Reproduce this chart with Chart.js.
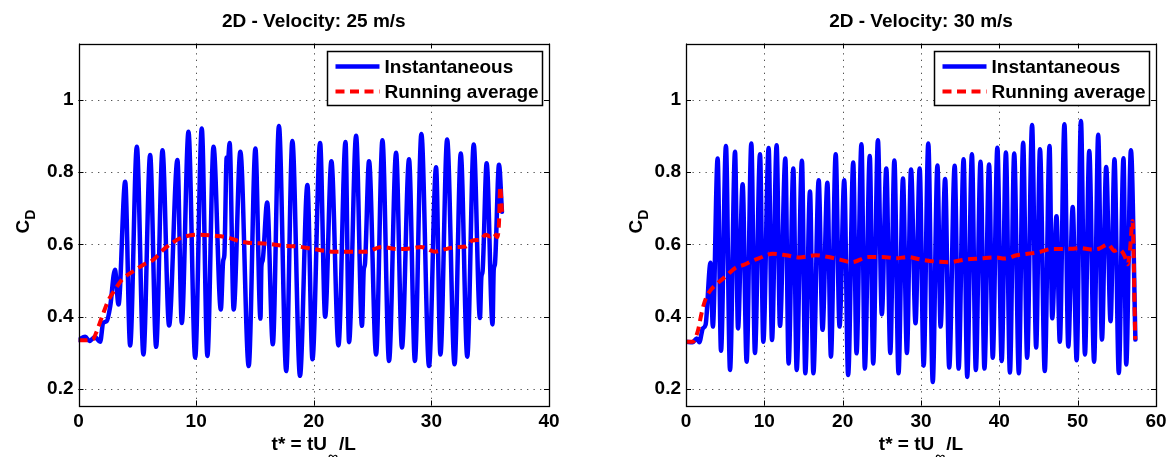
<!DOCTYPE html>
<html>
<head>
<meta charset="utf-8">
<script src="https://cdn.jsdelivr.net/npm/chart.js@4/dist/chart.umd.min.js"></script>
<style>
  html, body { margin: 0; padding: 0; background: #fff; overflow: hidden; }
  #wrap { position: relative; width: 1173px; height: 457px; }
  canvas { position: absolute; top: 0; }
  #c25 { left: 0; }
  #c30 { left: 600px; }
</style>
</head>
<body>
<div id="wrap">
  <canvas id="c25" width="600" height="457"></canvas>
  <canvas id="c30" width="573" height="457"></canvas>
</div>
<script>
// ---------------- data ----------------
// Drag coefficient history, 25 m/s case
const t25 = [0, 0.57, 0.93, 1.4, 1.84, 2.1, 2.4, 2.7, 3.1, 3.4, 3.97, 4.39, 4.96, 5.52, 6.09, 6.6, 7.14, 7.7,
  8.41, 8.78, 9.35, 9.92, 10.48, 10.96, 11.48, 12.1, 12.3, 12.4, 12.6, 12.7, 12.85, 13.19, 13.76, 14.47,
  15.04, 15.47, 15.55, 15.65, 16.04, 16.52, 17.04, 17.66, 18.18, 18.83, 19.46, 19.89, 20.54, 20.97, 21.5,
  22.1, 22.7, 23.0, 23.6, 24.1, 24.25, 24.35, 24.7, 25.3, 25.84, 26.4, 27.0, 27.5, 28.1, 28.6, 29.15, 29.8,
  30.4, 30.77, 31.34, 31.97, 32.5, 33.05, 33.6, 34.13, 34.25, 34.35, 34.7, 35.2, 35.3, 35.4, 35.75, 36.0];
const cd25 = [0.336, 0.345, 0.333, 0.344, 0.331, 0.383, 0.388, 0.43, 0.53, 0.434, 0.773, 0.321, 0.87, 0.296,
  0.847, 0.317, 0.86, 0.376, 0.833, 0.383, 0.911, 0.287, 0.92, 0.292, 0.87, 0.42, 0.555, 0.57, 0.84, 0.83,
  0.88, 0.42, 0.856, 0.264, 0.865, 0.395, 0.54, 0.555, 0.716, 0.324, 0.927, 0.25, 0.886, 0.237, 0.764, 0.283,
  0.88, 0.40, 0.83, 0.321, 0.883, 0.33, 0.90, 0.375, 0.53, 0.545, 0.83, 0.296, 0.888, 0.278, 0.853, 0.315,
  0.835, 0.278, 0.905, 0.264, 0.813, 0.296, 0.89, 0.269, 0.851, 0.29, 0.876, 0.397, 0.51, 0.525, 0.824,
  0.379, 0.53, 0.545, 0.82, 0.69];
const tAvg25 = [0, 1.2, 1.5, 2.0, 2.5, 3.1, 3.7, 4.67, 5.52, 6.37, 7.2, 8.0, 8.64, 10.06, 11.5, 12.6, 13.76,
  14.6, 16.0, 17.5, 18.7, 20.0, 21.7, 23.2, 24.4, 25.8, 27.1, 28.5, 29.1, 30.3, 31.2, 32.2, 32.9, 33.5,
  34.2, 34.6, 35.0, 35.3, 35.6, 35.75, 35.85, 35.95, 36.0];
const avg25 = [0.335, 0.337, 0.356, 0.40, 0.443, 0.475, 0.503, 0.526, 0.544, 0.558, 0.585, 0.605, 0.617,
  0.627, 0.624, 0.62, 0.608, 0.604, 0.602, 0.596, 0.594, 0.587, 0.58, 0.58, 0.58, 0.593, 0.587, 0.59, 0.593,
  0.58, 0.587, 0.593, 0.594, 0.611, 0.613, 0.627, 0.622, 0.631, 0.62, 0.66, 0.76, 0.72, 0.69];

// Drag coefficient history, 30 m/s case
const t30 = [0, 0.85, 1.37, 1.7, 2.15, 2.5, 3.13, 3.43, 4.04, 4.47, 5.1, 5.62, 6.26, 6.64, 7.23, 7.74, 8.34,
  8.8, 9.45, 9.87, 10.55, 10.98, 11.57, 12.0, 12.68, 13.1, 13.7, 14.13, 14.8, 15.23, 15.83, 16.26, 16.94,
  17.43, 18.05, 18.5, 19.11, 19.6, 20.2, 20.7, 21.35, 21.77, 22.4, 22.83, 23.46, 23.9, 24.5, 25.0, 25.57,
  26.08, 26.6, 27.13, 27.7, 28.2, 28.73, 29.3, 29.83, 30.34, 30.93, 31.5, 32.1, 32.5, 33.08, 33.6, 34.3,
  34.8, 35.44, 35.9, 36.5, 37.0, 37.6, 38.1, 38.69, 39.16, 39.75, 40.3, 40.84, 41.35, 41.9, 42.49, 43.04,
  43.55, 44.18, 44.7, 45.19, 45.8, 46.41, 46.75, 47.3, 47.72, 48.31, 48.8, 49.37, 49.87, 50.42, 50.93,
  51.48, 52.1, 52.62, 53.1, 53.64, 54.2, 54.7, 55.25, 55.85, 56.2, 56.8, 57.37];
const cd30 = [0.331, 0.33, 0.34, 0.33, 0.368, 0.378, 0.549, 0.373, 0.837, 0.306, 0.872, 0.253, 0.856, 0.368,
  0.766, 0.276, 0.879, 0.30, 0.849, 0.331, 0.866, 0.336, 0.874, 0.375, 0.837, 0.271, 0.81, 0.253, 0.831,
  0.244, 0.746, 0.244, 0.777, 0.364, 0.77, 0.29, 0.849, 0.373, 0.777, 0.239, 0.826, 0.299, 0.877, 0.257,
  0.844, 0.271, 0.888, 0.407, 0.81, 0.30, 0.832, 0.244, 0.782, 0.30, 0.807, 0.382, 0.81, 0.265, 0.879, 0.22,
  0.818, 0.373, 0.781, 0.26, 0.817, 0.257, 0.835, 0.234, 0.849, 0.253, 0.828, 0.257, 0.821, 0.287, 0.867,
  0.278, 0.854, 0.246, 0.851, 0.244, 0.881, 0.287, 0.930, 0.315, 0.863, 0.25, 0.872, 0.396, 0.678, 0.331,
  0.932, 0.318, 0.703, 0.28, 0.941, 0.296, 0.858, 0.276, 0.903, 0.337, 0.814, 0.388, 0.835, 0.245, 0.838,
  0.268, 0.86, 0.337];
const tAvg30 = [0, 0.85, 1.5, 2.04, 2.55, 3.19, 4.04, 5.1, 6.3, 7.45, 8.3, 9.36, 11.06, 12.77, 14.47, 16.55,
  18.2, 19.66, 21.2, 23.25, 25.1, 26.8, 28.3, 30.0, 31.7, 33.6, 35.65, 37.55, 39.45, 40.7, 42.2, 43.6, 45.15,
  46.6, 48.3, 49.2, 50.4, 51.7, 52.7, 53.9, 54.7, 55.3, 56.0, 56.4, 56.7, 57.0, 57.15, 57.25, 57.35];
const avg30 = [0.331, 0.331, 0.36, 0.415, 0.452, 0.475, 0.493, 0.512, 0.535, 0.544, 0.553, 0.562, 0.574,
  0.57, 0.564, 0.57, 0.565, 0.558, 0.551, 0.565, 0.565, 0.562, 0.565, 0.558, 0.553, 0.551, 0.558, 0.561,
  0.564, 0.561, 0.57, 0.574, 0.579, 0.587, 0.587, 0.588, 0.59, 0.586, 0.588, 0.60, 0.582, 0.586, 0.568,
  0.545, 0.59, 0.665, 0.572, 0.443, 0.337];

const yTickValues = [0.2, 0.4, 0.6, 0.8, 1.0];
const seriesNames = ['Instantaneous', 'Running average'];
const panelTitles = ['2D - Velocity: 25 m/s', '2D - Velocity: 30 m/s'];

// ---------------- styling ----------------
const FAMILY = "'Liberation Sans', Arial, Helvetica, sans-serif";
const FONT = 'bold 19px ' + FAMILY;

function points(xs, ys) {
  return xs.map((x, i) => ({ x: x, y: ys[i] }));
}

// dotted grid under the data, box and inward tick marks over it
const framePlugin = {
  id: 'frame',
  beforeDatasetsDraw(chart) {
    const { ctx, chartArea: a, scales } = chart;
    const xs = scales.x, ys = scales.y;
    ctx.save();
    ctx.strokeStyle = 'rgba(50,50,50,0.85)';
    ctx.lineWidth = 1;
    ctx.setLineDash([1.3, 5.2]);
    xs.ticks.forEach(tk => {
      if (tk.value <= xs.min || tk.value >= xs.max) return;
      const px = Math.round(xs.getPixelForValue(tk.value)) + 0.5;
      ctx.beginPath(); ctx.moveTo(px, a.bottom); ctx.lineTo(px, a.top); ctx.stroke();
    });
    ys.ticks.forEach(tk => {
      const py = Math.round(ys.getPixelForValue(tk.value)) + 0.5;
      ctx.beginPath(); ctx.moveTo(a.left, py); ctx.lineTo(a.right, py); ctx.stroke();
    });
    ctx.restore();
  },
  afterDatasetsDraw(chart) {
    const { ctx, chartArea: a, scales } = chart;
    const xs = scales.x, ys = scales.y;
    const len = 5;
    ctx.save();
    ctx.strokeStyle = '#000';
    ctx.lineWidth = 1;
    ctx.setLineDash([]);
    xs.ticks.forEach(tk => {
      const px = Math.round(xs.getPixelForValue(tk.value)) + 0.5;
      ctx.beginPath();
      ctx.moveTo(px, a.bottom); ctx.lineTo(px, a.bottom - len);
      ctx.moveTo(px, a.top); ctx.lineTo(px, a.top + len);
      ctx.stroke();
    });
    ys.ticks.forEach(tk => {
      const py = Math.round(ys.getPixelForValue(tk.value)) + 0.5;
      ctx.beginPath();
      ctx.moveTo(a.left, py); ctx.lineTo(a.left + len, py);
      ctx.moveTo(a.right, py); ctx.lineTo(a.right - len, py);
      ctx.stroke();
    });
    ctx.lineWidth = 1.3;
    ctx.strokeRect(Math.round(a.left) + 0.5, Math.round(a.top) + 0.5,
      Math.round(a.right) - Math.round(a.left), Math.round(a.bottom) - Math.round(a.top));
    ctx.restore();
  }
};

// legend in a framed box at the upper right of the plot area
const boxLegendPlugin = {
  id: 'boxLegend',
  afterDraw(chart) {
    const { ctx, chartArea: a } = chart;
    const w = 215, h = 54;
    const x0 = Math.round(a.right - 7 - w) + 0.5, y0 = Math.round(a.top + 7) + 0.5;
    ctx.save();
    ctx.fillStyle = '#fff';
    ctx.fillRect(x0, y0, w, h);
    ctx.strokeStyle = '#000';
    ctx.lineWidth = 1.5;
    ctx.setLineDash([]);
    ctx.strokeRect(x0, y0, w, h);
    ctx.font = FONT;
    ctx.textBaseline = 'middle';
    ctx.textAlign = 'left';
    chart.data.datasets.forEach((ds, i) => {
      const cy = y0 + 15 + i * 25;
      ctx.strokeStyle = ds.borderColor;
      ctx.lineWidth = ds.borderWidth;
      ctx.setLineDash(ds.borderDash || []);
      ctx.beginPath(); ctx.moveTo(x0 + 8, cy); ctx.lineTo(x0 + 52, cy); ctx.stroke();
      ctx.setLineDash([]);
      ctx.fillStyle = '#000';
      ctx.fillText(ds.label, x0 + 57, cy + 1);
    });
    ctx.restore();
  }
};

// axis titles with subscripts: C_D and t* = tU_inf/L
const axisTitlePlugin = {
  id: 'axisTitles',
  afterDraw(chart, args, opts) {
    const { ctx, chartArea: a } = chart;
    const subFont = 'bold 14px ' + FAMILY;
    ctx.save();
    ctx.fillStyle = '#000';
    ctx.textAlign = 'left';
    ctx.textBaseline = 'alphabetic';

    // x title
    ctx.font = FONT;
    const main = 't* = tU', tail = '/L', sub = '\u221E';
    const wMain = ctx.measureText(main).width;
    const wTail = ctx.measureText(tail).width;
    ctx.font = subFont;
    const wSub = ctx.measureText(sub).width;
    const total = wMain + wSub + 2 + wTail;
    const cx = (a.left + a.right) / 2;
    const x = cx - total / 2;
    const base = 450;
    ctx.font = FONT;
    ctx.fillText(main, x, base);
    ctx.font = subFont;
    ctx.fillText(sub, x + wMain + 1, base + 11);
    ctx.font = FONT;
    ctx.fillText(tail, x + wMain + wSub + 2, base);

    // y title, rotated
    ctx.font = FONT;
    const wC = ctx.measureText('C').width;
    ctx.font = subFont;
    const wD = ctx.measureText('D').width;
    const cy = (a.top + a.bottom) / 2 - 3;
    ctx.translate(opts.yTitleX, cy);
    ctx.rotate(-Math.PI / 2);
    const yTotal = wC + wD;
    ctx.font = FONT;
    ctx.fillText('C', -yTotal / 2, 0);
    ctx.font = subFont;
    ctx.fillText('D', -yTotal / 2 + wC, 6);
    ctx.restore();
  }
};

function makePanel(id, cfg) {
  return new Chart(document.getElementById(id), {
    type: 'line',
    data: {
      datasets: [
        {
          label: seriesNames[0],
          data: points(cfg.tInst, cfg.cdInst),
          borderColor: '#0000ff',
          borderWidth: 4.5,
          borderJoinStyle: 'round',
          borderCapStyle: 'round',
          pointRadius: 0,
          cubicInterpolationMode: 'monotone',
          fill: false,
          order: 1
        },
        {
          label: seriesNames[1],
          data: points(cfg.tAvg, cfg.cdAvg),
          borderColor: '#ff0000',
          borderWidth: 4,
          borderDash: [9, 5.5],
          borderCapStyle: 'butt',
          pointRadius: 0,
          cubicInterpolationMode: 'monotone',
          fill: false,
          order: 0
        }
      ]
    },
    options: {
      responsive: false,
      animation: false,
      devicePixelRatio: 1,
      events: [],
      layout: { padding: { left: 0, right: cfg.rightPad, top: 0, bottom: 0 } },
      plugins: {
        legend: { display: false },
        tooltip: { enabled: false },
        title: {
          display: true,
          text: cfg.title,
          fullSize: false,
          color: '#000',
          font: { family: FAMILY, size: 19, weight: 'bold', lineHeight: 1.2 },
          padding: { top: 10, bottom: 10.7 }
        },
        axisTitles: { yTitleX: cfg.yTitleX }
      },
      scales: {
        x: {
          type: 'linear',
          min: 0,
          max: cfg.xMax,
          grid: { display: false, drawTicks: false },
          border: { display: false },
          ticks: {
            stepSize: 10,
            autoSkip: false,
            maxRotation: 0,
            padding: 5,
            color: '#000',
            font: { family: FAMILY, size: 19, weight: 'bold' }
          },
          afterFit(scale) { scale.height = 51.5; }
        },
        y: {
          type: 'linear',
          min: 0.155,
          max: 1.155,
          grid: { display: false, drawTicks: false },
          border: { display: false },
          afterBuildTicks(scale) { scale.ticks = yTickValues.map(v => ({ value: v })); },
          ticks: {
            autoSkip: false,
            padding: 5,
            color: '#000',
            font: { family: FAMILY, size: 19, weight: 'bold' },
            callback: (v) => (Math.abs(v - 1) < 1e-9 ? '1' : Number(v).toFixed(1))
          },
          afterFit(scale) { scale.width = cfg.yWidth; }
        }
      }
    },
    plugins: [framePlugin, boxLegendPlugin, axisTitlePlugin]
  });
}

makePanel('c25', {
  title: panelTitles[0], xMax: 40,
  tInst: t25, cdInst: cd25, tAvg: tAvg25, cdAvg: avg25,
  yWidth: 78.5, rightPad: 51, yTitleX: 29
});
makePanel('c30', {
  title: panelTitles[1], xMax: 60,
  tInst: t30, cdInst: cd30, tAvg: tAvg30, cdAvg: avg30,
  yWidth: 86, rightPad: 17, yTitleX: 42
});
</script>
</body>
</html>
